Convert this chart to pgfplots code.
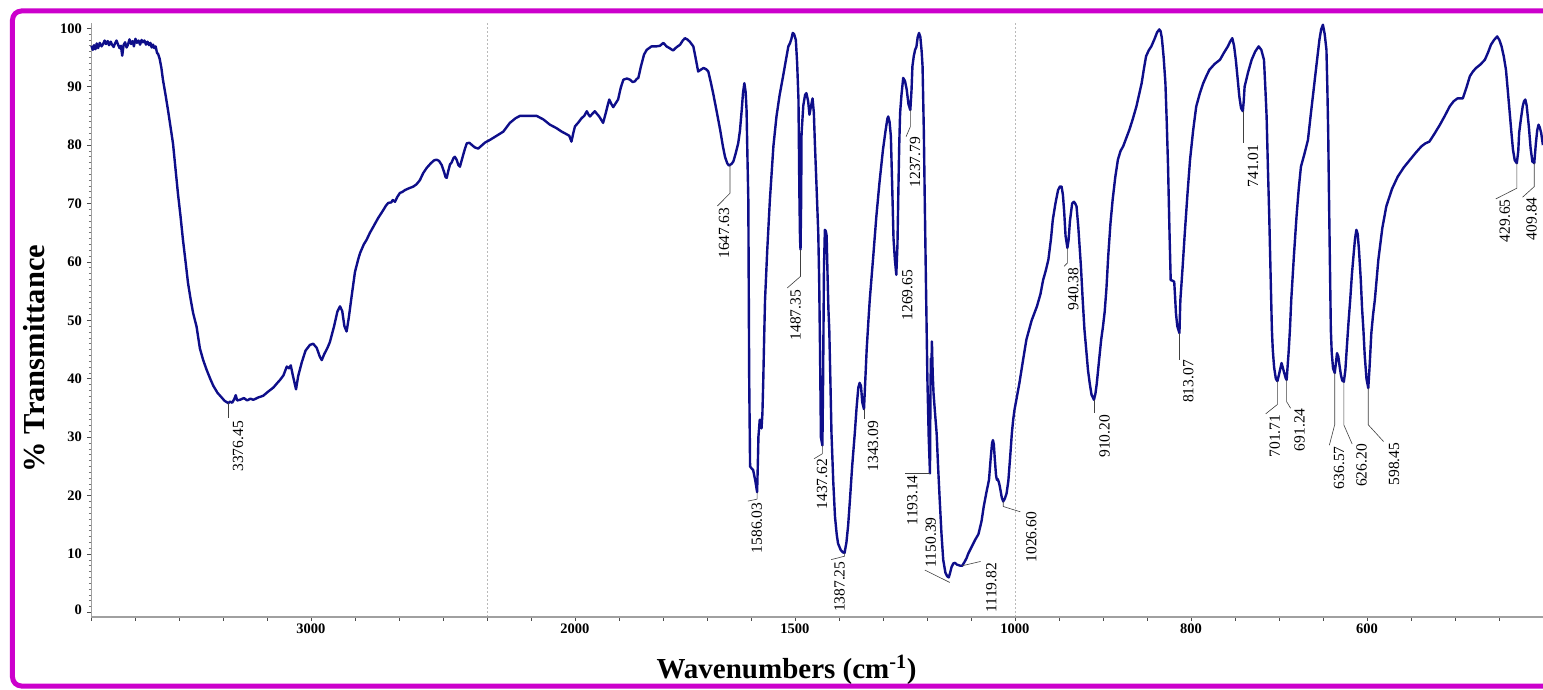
\documentclass[border=0pt]{standalone}
\usepackage{fontspec}
\setmainfont{Liberation Serif}
\usepackage{pgfplots}
\usepackage{pgfplotstable}
\pgfplotsset{compat=1.18}
\definecolor{spec}{RGB}{14,14,138}
\definecolor{framecol}{RGB}{204,0,204}
\definecolor{axisgray}{RGB}{160,160,160}

\pgfplotstableread{
w T
3998 97.0
3992 96.3
3986 97.1
3980 96.4
3974 97.4
3968 96.6
3960 97.5
3952 96.9
3945 97.3
3938 97.9
3932 97.3
3924 97.8
3918 97.1
3910 97.7
3905 97.2
3897 96.8
3891 97.4
3884 97.9
3877 97.2
3870 96.6
3864 97.0
3858 95.3
3852 97.1
3845 97.6
3838 96.7
3832 97.2
3825 98.1
3818 97.3
3811 97.8
3805 96.9
3798 98.2
3791 97.5
3784 97.9
3777 97.2
3770 98.0
3764 97.6
3757 97.9
3750 97.2
3743 97.7
3736 97.1
3730 97.5
3724 96.7
3718 97.2
3712 96.6
3706 96.9
3700 95.8
3695 95.6
3688 94.8
3680 93.2
3673 91.2
3662 88.8
3650 86.0
3638 83.0
3627 80.2
3616 76.0
3605 71.8
3593 67.8
3582 63.8
3570 60.0
3559 56.4
3547 53.6
3536 51.3
3520 48.9
3505 45.2
3490 43.2
3474 41.5
3458 40.0
3444 38.8
3425 37.6
3406 36.8
3392 36.2
3382 36.0
3376.45 35.8
3368 36.1
3358 35.9
3348 36.6
3342 37.2
3336 36.3
3323 36.4
3305 36.7
3290 36.3
3275 36.6
3262 36.4
3240 36.8
3217 37.1
3195 37.8
3171 38.5
3155 39.2
3141 39.8
3125 40.6
3110 42.1
3100 41.8
3092 42.3
3082 40.5
3068 38.2
3058 40.5
3042 42.8
3025 44.8
3005 45.8
2990 46.0
2974 45.3
2960 43.8
2951 43.2
2940 44.2
2925 45.3
2914 46.3
2895 49.0
2880 51.5
2868 52.4
2858 51.6
2848 49.0
2838 48.1
2828 50.5
2815 54.2
2800 58.3
2785 60.5
2777 61.5
2760 63.0
2747 63.8
2732 65.0
2717 66.0
2695 67.5
2671 68.9
2660 69.6
2649 70.1
2635 70.2
2628 70.6
2618 70.3
2608 71.1
2596 71.8
2584 72.0
2573 72.3
2555 72.6
2535 72.9
2520 73.3
2505 74.0
2490 75.2
2474 76.1
2455 76.9
2440 77.4
2429 77.5
2418 77.3
2406 76.6
2395 75.4
2388 74.5
2383 74.4
2375 75.7
2368 76.7
2361 77.0
2352 77.8
2346 78.0
2338 77.5
2330 76.6
2323 76.3
2312 77.8
2300 79.4
2292 80.3
2280 80.4
2268 80.0
2255 79.6
2240 79.4
2225 79.9
2210 80.4
2201 80.6
2193 80.9
2178 81.6
2163 82.3
2148 83.8
2135 84.6
2125 85.0
2105 85.0
2087 85.0
2072 84.4
2057 83.5
2042 82.9
2030 82.3
2020 81.9
2013 81.6
2008 80.6
2004 82.0
2000 83.2
1992 83.9
1985 84.6
1979 85.0
1973 85.8
1969 85.2
1966 84.9
1960 85.4
1955 85.8
1945 84.9
1936 83.8
1930 85.5
1925 87.0
1922 87.8
1917 87.0
1913 86.5
1908 87.1
1902 87.8
1896 89.8
1890 91.2
1882 91.4
1875 91.2
1869 90.8
1864 90.9
1860 91.3
1856 91.5
1850 93.5
1843 95.5
1837 96.3
1826 96.9
1815 96.9
1807 97.0
1799 97.5
1792 96.9
1785 96.6
1777 96.2
1770 96.7
1761 97.2
1755 97.9
1750 98.3
1745 98.1
1739 97.7
1731 96.9
1726 95.0
1720 92.6
1714 92.9
1708 93.2
1702 93.0
1697 92.6
1692 91.0
1686 88.9
1678 85.8
1670 82.6
1664 79.9
1659 78.0
1654 76.9
1650 76.5
1647.63 76.6
1644 76.8
1640 77.2
1635 78.5
1629 80.3
1625 82.5
1621 86.0
1618 89.0
1615 90.6
1612 89.0
1610 86.0
1608 78.0
1606 70.6
1605 55.0
1604 40.0
1602 25.0
1598 24.6
1595 24.4
1590 22.5
1586.03 20.6
1584.5 25.0
1583 30.1
1580 33.0
1578 32.8
1576 31.5
1574 34.0
1572 39.8
1570 47.0
1568 53.5
1563 62.0
1557 70.6
1549 79.8
1542 84.9
1535 88.5
1527 91.8
1520 94.8
1515 96.9
1511 97.5
1508 98.2
1505 99.2
1502 99.0
1498 98.0
1495 94.0
1492 87.8
1490 72.0
1488.5 64.0
1487.35 62.1
1486 70.0
1485 82.0
1481 86.8
1477 88.6
1474 88.9
1470 87.5
1467 85.2
1464 86.5
1460 88.0
1457 85.5
1455 80.9
1451 73.0
1447 64.9
1445 57.0
1443 45.0
1441 30.0
1437.62 28.6
1436 40.0
1435 50.0
1434 59.2
1432 65.5
1430 65.3
1428 64.5
1426 58.0
1424 52.0
1422 48.4
1419 38.0
1417 30.7
1413 22.5
1409 16.4
1405 13.3
1402 11.8
1396 10.7
1391 10.3
1387.25 10.2
1383 12.0
1379 15.0
1375 19.3
1370 25.0
1364 30.7
1360 35.0
1356 38.5
1353 39.3
1350 38.8
1347 36.0
1343.09 34.8
1340 40.0
1337 45.0
1333 50.0
1330 53.5
1322 61.0
1315 67.8
1308 73.5
1300 79.2
1294 82.5
1290 84.5
1288 84.9
1285 84.0
1282 81.5
1279 73.0
1276 64.0
1273 60.5
1269.65 57.8
1267 63.0
1265 72.0
1263 80.0
1261 85.5
1258 88.5
1254 91.5
1250 91.0
1246 89.5
1242 87.0
1237.79 86.0
1235 89.5
1233 93.5
1230 95.2
1227 96.3
1224 96.8
1221 98.5
1218 99.2
1215 98.5
1212 96.0
1210 93.5
1207 82.0
1205 70.6
1202 55.0
1199 40.0
1196 30.0
1193.14 23.8
1192 38.0
1191 43.5
1190.2 40.5
1188.7 46.4
1187 41.0
1185 37.5
1182 34.5
1178 30.7
1175 25.5
1171 19.3
1167 13.5
1163 9.0
1158 6.8
1154 6.2
1150.39 6.0
1147 6.9
1144 7.8
1140 8.4
1136 8.5
1132 8.2
1128 8.1
1124 8.0
1119.82 8.0
1115 8.6
1110 9.3
1106 10.1
1102 10.7
1096 11.6
1090 12.5
1083 13.4
1076 15.6
1071 18.1
1065 20.5
1059 22.7
1055 26.5
1052 29.0
1050 29.5
1048 28.8
1046 26.5
1043 23.5
1041 22.7
1039 22.8
1037 22.4
1035 21.8
1033 21.0
1030 19.7
1026.60 19.0
1023 19.5
1019 20.4
1015 22.5
1011 26.5
1007 30.7
1004 33.0
1001 34.7
995 39.2
991 43.0
987 46.7
981 50.0
975 52.4
971 54.5
968 56.9
965 58.5
962 60.4
959 64.0
957 67.2
954 70.0
951 72.3
949 72.9
947 72.9
945.5 71.5
944 68.5
942.5 64.5
940.38 62.4
939 63.8
937.5 67.0
935 70.0
933 70.3
931.5 70.0
930 69.5
928 66.0
925 59.2
923 53.5
921 48.4
919 45.0
917 41.5
915 39.2
913 37.3
910.20 36.4
908.5 37.5
907 39.2
904.5 43.0
902 46.7
900 48.9
898 51.5
896 55.5
894 61.0
891.5 66.5
889 70.6
886 74.5
883 77.5
880 79.0
877 79.8
873.5 81.2
870 82.6
866 84.5
862 86.6
859 88.6
856 90.6
853.5 93.0
851 95.2
848 96.2
845 96.9
841 98.3
838.5 99.3
836 99.8
834.5 99.5
833 98.3
831 95.0
829 90.6
827.5 84.0
826 76.3
824.5 66.0
823 56.9
821 56.8
819 56.6
818 54.0
817 51.2
815.5 49.0
813.07 47.8
812.5 51.0
812 53.5
809.5 59.0
807 64.9
804 71.5
801 77.5
797.5 82.5
794 86.6
790 88.8
786 90.6
782.5 91.8
779 92.9
773 93.9
767 94.6
762.5 95.8
758 96.9
755.5 97.7
753 98.3
751 97.0
749 94.6
747 91.5
745 88.3
743 86.3
741.01 85.8
740 87.5
739 90.0
735 92.5
731 94.6
727 96.0
723 96.9
720 96.3
717 94.6
715.5 90.0
714 84.9
712.5 76.0
711 67.8
709.5 58.0
708 48.4
707 45.0
705.5 42.0
703.5 40.0
701.71 39.6
699.5 41.0
697 42.7
694.5 41.3
692.5 40.2
691.24 39.8
689 44.5
687.5 48.4
686 53.5
683 61.0
680 67.8
677.5 72.5
675 76.3
671 78.5
667 80.9
664 85.0
661 88.9
657.5 93.5
654 98.0
652 99.8
650 100.6
648 99.0
646 96.3
645 90.0
644 82.1
643 70.0
642 59.2
641 48.4
640 44.5
638.5 41.8
636.57 41.0
635 43.0
634 44.4
632.5 43.8
631 42.1
629.5 40.6
628 39.7
626.20 39.5
624.5 41.5
623 45.0
621 49.5
619 53.5
617 58.0
615 61.5
613.5 64.0
612 65.5
610.5 64.8
609 62.0
607 57.0
605.5 52.0
604 48.4
602.5 44.0
600.5 40.0
598.45 38.4
597 42.0
595 47.8
593 51.0
591 53.5
587 60.4
582.5 65.8
578 69.5
571.5 72.5
565 74.6
558 76.2
551 77.5
544.5 78.7
538 79.8
533.5 80.3
529 80.6
523 82.0
517 83.5
511.5 85.0
506 86.6
501.5 87.5
497 88.0
494 88.0
491 88.0
487 89.8
483 91.8
479.5 92.6
476 93.2
471 93.8
466 94.6
462.5 95.8
459 97.2
455.5 98.0
452 98.6
449.5 98.0
447 96.9
444.5 95.2
442 92.9
440 89.5
438 86.0
436 82.5
434 79.2
432 77.4
429.65 76.9
428 79.0
427 82.1
425 84.5
423 86.6
421.5 87.5
420 87.8
418.5 86.8
416 83.2
414 79.5
412 77.2
409.84 76.9
408 80.3
406.5 82.5
405 83.5
403.5 83.0
402 82.1
400 80.0
}\spectrum

\begin{document}
\begin{tikzpicture}[x=1pt,y=1pt,
  lead/.style={black!75, line width=0.6pt},
  plab/.style={rotate=90, inner sep=0pt, anchor=east, font=\fontsize{15.5}{16}\selectfont}]
\fill[white] (-91,-72.3) rectangle (1452,616.7);
\path[use as bounding box] (-91,-72.3) rectangle (1452,616.7);
% The wavenumber axis is stretched piecewise: 4000-2200 at 1x, 2200-1000 at 2x,
% 1000-400 at 4x. Position u on the axis: u = 4000 - w + max(0,2200-w) + 2 max(0,1000-w).
\begin{axis}[
  at={(0,0)}, anchor=south west,
  width=1452pt, height=593.7pt, scale only axis,
  clip=false,
  xmin=0, xmax=6600, ymin=-0.72, ymax=100.9,
  axis line style={draw=none},
  tick pos=left,
  tick align=outside,
  major tick length=4pt, minor tick length=2pt,
  tick style={black!70, line width=0.8pt},
  minor tick style={black!55, line width=0.7pt},
  xtick={0,200,...,6600},
  xticklabels={,,,,,3000,,,,,,2000,,,,,1500,,,,,1000,,,,800,,,,600,,,,},
  ytick={0,10,...,100},
  yticklabels={\raisebox{6pt}{0},10,20,30,40,50,60,70,80,90,100},
  minor y tick num=9,
  ticklabel style={font=\bfseries\fontsize{14.5}{16}\selectfont, inner sep=0pt},
  xticklabel style={anchor=north, yshift=-3pt},
  yticklabel style={anchor=east, xshift=-5pt},
]
\draw[gray!55, line width=0.6pt, dash pattern=on 2pt off 2pt] (axis cs:1800,-0.72) -- (axis cs:1800,100.9);
\draw[gray!55, line width=0.6pt, dash pattern=on 2pt off 2pt] (axis cs:4200,-0.72) -- (axis cs:4200,100.9);
\draw[axisgray, line width=0.9pt] (rel axis cs:0,0) -- (rel axis cs:0,1);
\draw[axisgray, line width=2pt] (rel axis cs:0,0) -- (rel axis cs:1,0);

\addplot[spec, line width=2.4pt, line join=round]
  table[x expr={4000-\thisrow{w}+max(0,2200-\thisrow{w})+2*max(0,1000-\thisrow{w})}, y=T] {\spectrum};

% peak annotations (axis position u of each labelled wavenumber)
\draw[lead] (axis cs:623.55,35.8) -- ++(0pt,-15pt);
\node[plab] at ([shift={(10pt,-17.7pt)}]axis cs:623.55,35.8) {3376.45};
\draw[lead] (axis cs:2904.74,76.6) -- ++(0pt,-28.3pt) -- ++(-12.6pt,-12.7pt);
\node[plab] at ([shift={(-6pt,-43pt)}]axis cs:2904.74,76.6) {1647.63};
\draw[lead] (axis cs:3027.94,20.6) -- ++(0pt,-7pt) -- ++(-9.3pt,-2pt);
\node[plab] at ([shift={(-0.3pt,-10.3pt)}]axis cs:3027.94,20.6) {1586.03};
\draw[lead] (axis cs:3225.3,62.1) -- ++(0pt,-26.7pt) -- ++(-13.3pt,-11.6pt);
\node[plab] at ([shift={(-5pt,-40pt)}]axis cs:3225.3,62.1) {1487.35};
\draw[lead] (axis cs:3324.76,28.6) -- ++(0pt,-8.3pt) -- ++(-8.3pt,-5pt);
\node[plab] at ([shift={(-0.3pt,-13.3pt)}]axis cs:3324.76,28.6) {1437.62};
\draw[lead] (axis cs:3425.5,10.2) -- ++(0pt,-3.3pt) -- ++(-13.3pt,-3.4pt);
\node[plab] at ([shift={(-5pt,-8.4pt)}]axis cs:3425.5,10.2) {1387.25};
\draw[lead] (axis cs:3513.82,34.8) -- ++(0pt,-10pt);
\node[plab] at ([shift={(9pt,-11.7pt)}]axis cs:3513.82,34.8) {1343.09};
\node[plab] at ([shift={(11pt,5pt)}]axis cs:3660.7,57.8) {1269.65};
\draw[lead] (axis cs:3724.42,86.0) -- ++(0pt,-16.7pt) -- ++(-4.3pt,-10pt);
\node[plab] at ([shift={(4.7pt,-26.7pt)}]axis cs:3724.42,86.0) {1237.79};
\draw[lead] (axis cs:3813.72,23.8) -- ++(-25pt,0pt);
\node[plab] at ([shift={(-17.6pt,-1.7pt)}]axis cs:3813.72,23.8) {1193.14};
\draw[lead] ([shift={(1pt,-5pt)}]axis cs:3899.22,6.0) -- ++(-25pt,12.4pt);
\node[plab, anchor=west] at ([shift={(-18pt,10pt)}]axis cs:3899.22,6.0) {1150.39};
\draw[lead] (axis cs:3960.36,8.0) -- ++(18.3pt,4.3pt);
\node[plab] at ([shift={(29pt,3pt)}]axis cs:3960.36,8.0) {1119.82};
\draw[lead] (axis cs:4146.8,19.0) -- ++(0pt,-5pt) -- ++(17pt,-5.3pt);
\node[plab] at ([shift={(28pt,-10.3pt)}]axis cs:4146.8,19.0) {1026.60};
\draw[lead] (axis cs:4438.48,62.4) -- ++(0pt,-15pt) -- ++(-3.3pt,-3.4pt);
\node[plab] at ([shift={(6pt,-19.7pt)}]axis cs:4438.48,62.4) {940.38};
\draw[lead] (axis cs:4559.2,36.4) -- ++(0pt,-13.3pt);
\node[plab] at ([shift={(10.7pt,-15pt)}]axis cs:4559.2,36.4) {910.20};
\draw[lead] (axis cs:4947.72,47.8) -- ++(0pt,-26.7pt);
\node[plab] at ([shift={(9pt,-26.7pt)}]axis cs:4947.72,47.8) {813.07};
\draw[lead] (axis cs:5235.96,85.8) -- ++(0pt,-31.6pt);
\node[plab] at ([shift={(10.3pt,-33.3pt)}]axis cs:5235.96,85.8) {741.01};
\draw[lead] (axis cs:5393.16,39.6) -- ++(0pt,-23.3pt) -- ++(-11.7pt,-9.4pt);
\node[plab] at ([shift={(-2.7pt,-33.3pt)}]axis cs:5393.16,39.6) {701.71};
\draw[lead] (axis cs:5435.04,39.8) -- ++(0pt,-21.7pt) -- ++(4pt,-6.6pt);
\node[plab] at ([shift={(13pt,-28.3pt)}]axis cs:5435.04,39.8) {691.24};
\draw[lead] (axis cs:5653.72,41.0) -- ++(0pt,-51.6pt) -- ++(-5.4pt,-20.7pt);
\node[plab] at ([shift={(4.3pt,-73.3pt)}]axis cs:5653.72,41.0) {636.57};
\draw[lead] (axis cs:5695.2,39.5) -- ++(0pt,-43.3pt) -- ++(8.3pt,-19pt);
\node[plab] at ([shift={(17.7pt,-62.3pt)}]axis cs:5695.2,39.5) {626.20};
\draw[lead] (axis cs:5806.2,38.4) -- ++(0pt,-36.7pt) -- ++(15.3pt,-16.7pt);
\node[plab] at ([shift={(25.7pt,-54.4pt)}]axis cs:5806.2,38.4) {598.45};
\draw[lead] (axis cs:6481.4,76.9) -- ++(0pt,-25pt) -- ++(-21pt,-10.7pt);
\node[plab] at ([shift={(-12pt,-36pt)}]axis cs:6481.4,76.9) {429.65};
\draw[lead] (axis cs:6560.64,76.9) -- ++(0pt,-23.4pt) -- ++(-11.7pt,-10.6pt);
\node[plab] at ([shift={(-2.7pt,-34pt)}]axis cs:6560.64,76.9) {409.84};
\end{axis}

% axis titles
\node[rotate=90, anchor=base, font=\bfseries\fontsize{30.5}{32}\selectfont] at (-46,258.2) {\% Transmittance};
\node[anchor=base, font=\bfseries\fontsize{29}{31}\selectfont] at (695.5,-61.3) {Wavenumbers (cm\textsuperscript{-1})};

% surrounding frame
\draw[framecol, line width=5pt, rounded corners=9pt] (-78.5,-69.3) rectangle (1500,605.7);
\end{tikzpicture}
\end{document}
